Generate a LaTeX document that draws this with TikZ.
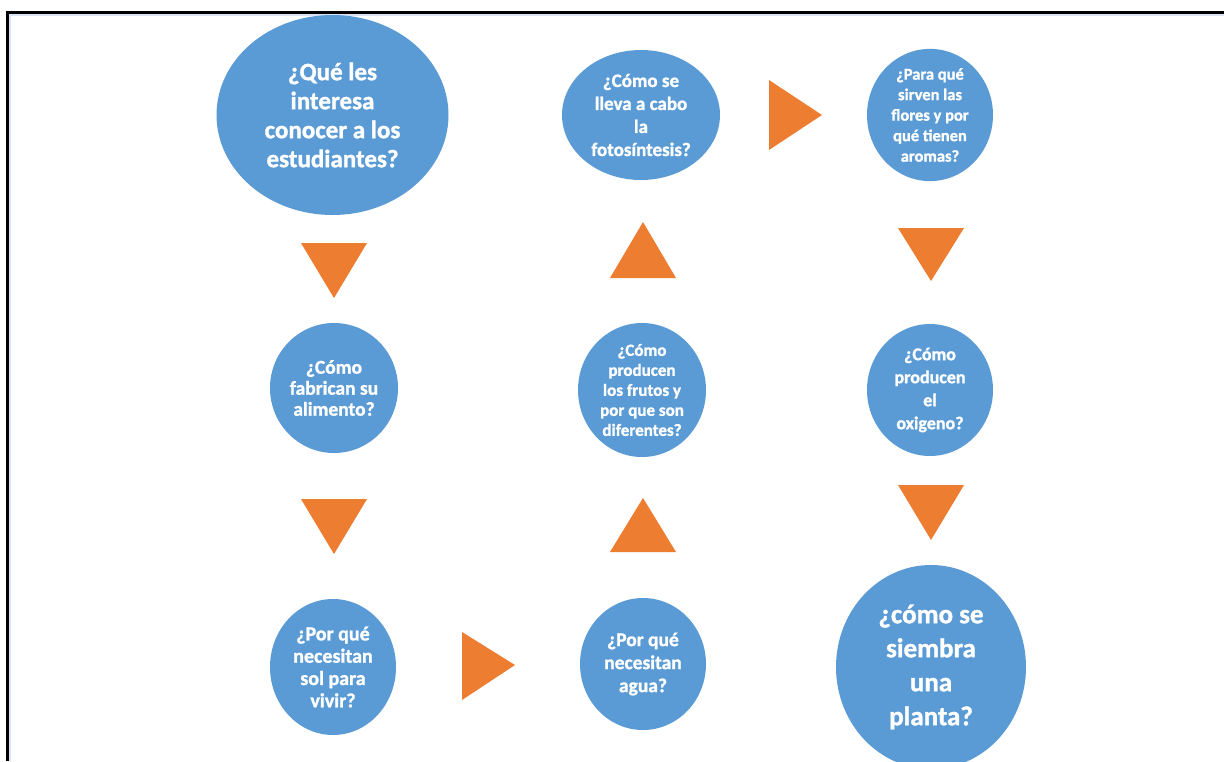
\documentclass[tikz,border=0pt]{standalone}
\usepackage{fontspec}
\setmainfont{Carlito}[BoldFeatures={FakeBold=1.2}]
\usetikzlibrary{shapes.geometric}
\definecolor{qblue}{HTML}{5B9BD5}
\definecolor{qorange}{HTML}{ED7D31}
\definecolor{edgeblue}{HTML}{DAE3F3}
\tikzset{
  qnode/.style={ellipse, fill=qblue, draw=none, inner sep=0pt, align=center,
    text=white, font=\bfseries},
  arrowtri/.style={fill=qorange, draw=none}
}
\begin{document}
\begin{tikzpicture}[x=1pt,y=-1pt]
\useasboundingbox (0,0) rectangle (1224,761);
\fill[white] (0,0) rectangle (1224,761);
% frame
\draw[edgeblue, line width=2pt] (10,761) -- (10,14.5) -- (1224,14.5);
\draw[black, line width=3pt] (7,761) -- (7,12) -- (1224,12);
% nodes
\node[qnode, minimum width=232pt, minimum height=200pt,
  font=\bfseries\fontsize{25}{29}\selectfont] (q1) at (332.5,115)
  {¿Qué les\\interesa\\conocer a los\\estudiantes?};
\node[qnode, minimum width=128pt, minimum height=130pt,
  font=\bfseries\fontsize{19.5}{21}\selectfont] (q2) at (334,388)
  {¿Cómo\\fabrican su\\alimento?};
\node[qnode, minimum width=126pt, minimum height=136pt,
  font=\bfseries\fontsize{20}{22.3}\selectfont] (q3) at (333,667)
  {¿Por qué\\necesitan\\sol para\\vivir?};
\node[qnode, minimum width=126pt, minimum height=132pt,
  font=\bfseries\fontsize{19.5}{23}\selectfont] (q4) at (643,664)
  {¿Por qué\\necesitan\\agua?};
\node[qnode, minimum width=128pt, minimum height=134pt,
  font=\bfseries\fontsize{17}{20}\selectfont] (q5) at (642,390)
  {¿Cómo\\producen\\los frutos y\\por que son\\diferentes?};
\node[qnode, minimum width=158pt, minimum height=130pt,
  font=\bfseries\fontsize{19}{23}\selectfont] (q6) at (641,115)
  {¿Cómo se\\lleva a cabo\\la\\fotosíntesis?};
\node[qnode, minimum width=126pt, minimum height=130pt,
  font=\bfseries\fontsize{16.5}{20.5}\selectfont] (q7) at (930,115)
  {¿Para qué\\sirven las\\flores y por\\qué tienen\\aromas?};
\node[qnode, minimum width=126pt, minimum height=132pt,
  font=\bfseries\fontsize{18}{23}\selectfont] (q8) at (930,390)
  {¿Cómo\\producen\\el\\oxigeno?};
\node[qnode, minimum width=190pt, minimum height=204pt,
  font=\bfseries\fontsize{27}{34}\selectfont] (q9) at (931,667)
  {¿cómo se\\siembra\\una\\planta?};
% orange arrow triangles
\fill[arrowtri] (301,243) -- (367,243) -- (334,298) -- cycle;
\fill[arrowtri] (301,499) -- (367,499) -- (334,554) -- cycle;
\fill[arrowtri] (462,632) -- (515,665) -- (462,700) -- cycle;
\fill[arrowtri] (610,552) -- (676,552) -- (643,498) -- cycle;
\fill[arrowtri] (610,278) -- (676,278) -- (643,222) -- cycle;
\fill[arrowtri] (769,80) -- (822,115) -- (769,150) -- cycle;
\fill[arrowtri] (898,228) -- (964,228) -- (931,281) -- cycle;
\fill[arrowtri] (898,485) -- (964,485) -- (931,540) -- cycle;
\end{tikzpicture}
\end{document}
